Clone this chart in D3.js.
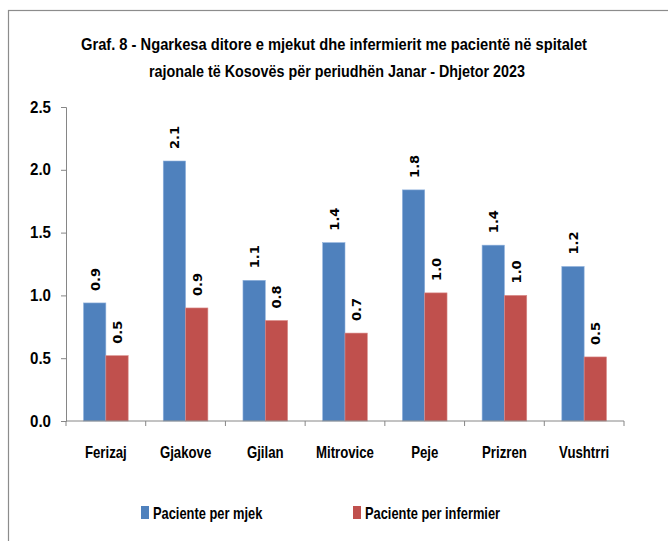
<!DOCTYPE html>
<html>
<head>
<meta charset="utf-8">
<script src="https://cdn.jsdelivr.net/npm/d3@7"></script>
<style>
  body { margin: 0; background: #fff; }
  svg text { font-family: "Liberation Sans Narrow", "Liberation Sans", sans-serif; font-weight: bold; fill: #000; }
</style>
</head>
<body>
<div id="chart"></div>
<script>
var categories = ['Ferizaj', 'Gjakove', 'Gjilan', 'Mitrovice', 'Peje', 'Prizren', 'Vushtrri'];
var seriesNames = ['Paciente per mjek', 'Paciente per infermier'];
var mjek = [0.94, 2.07, 1.12, 1.42, 1.84, 1.40, 1.23];
var infermier = [0.52, 0.90, 0.80, 0.70, 1.02, 1.00, 0.51];
var yTicks = [0, 0.5, 1.0, 1.5, 2.0, 2.5];
var colors = ['#4F81BD', '#C0504D'];

var width = 668, height = 541;
var margin = {left: 66, right: 44, top: 107, bottom: 120};

var svg = d3.select('#chart').append('svg')
    .attr('width', width)
    .attr('height', height);

// outer chart frame
svg.append('rect')
    .attr('x', 8.5).attr('y', 10.5)
    .attr('width', 700).attr('height', 600)
    .attr('fill', 'none')
    .attr('stroke', '#8c8c8c')
    .attr('stroke-width', 1.2);

svg.append('text')
    .attr('x', 334).attr('y', 50)
    .attr('text-anchor', 'middle')
    .attr('textLength', 506)
    .attr('lengthAdjust', 'spacingAndGlyphs')
    .style('font-size', '17px')
    .text('Graf. 8 - Ngarkesa  ditore e mjekut dhe  infermierit me pacientë në spitalet');
svg.append('text')
    .attr('x', 337).attr('y', 77)
    .attr('text-anchor', 'middle')
    .attr('textLength', 376)
    .attr('lengthAdjust', 'spacingAndGlyphs')
    .style('font-size', '17px')
    .text('rajonale  të Kosovës për periudhën Janar  - Dhjetor 2023');

var x0 = d3.scaleBand()
    .domain(categories)
    .range([margin.left, width - margin.right])
    .padding(0);

var x1 = d3.scaleBand()
    .domain(seriesNames)
    .range([x0.bandwidth() * 0.22, x0.bandwidth() * 0.78]);

var y = d3.scaleLinear()
    .domain([0, 2.5])
    .range([height - margin.bottom, margin.top]);

var data = categories.map(function (c, i) {
  return {cat: c, vals: [mjek[i], infermier[i]]};
});

var groups = svg.selectAll('.grp')
    .data(data).enter()
    .append('g')
    .attr('class', 'grp')
    .attr('transform', function (d) { return 'translate(' + x0(d.cat) + ',0)'; });

groups.selectAll('rect')
    .data(function (d) { return d.vals.map(function (v, j) { return {s: seriesNames[j], v: v, j: j}; }); })
    .enter()
    .append('rect')
    .attr('x', function (d) { return x1(d.s); })
    .attr('y', function (d) { return y(d.v); })
    .attr('width', x1.bandwidth())
    .attr('height', function (d) { return y(0) - y(d.v); })
    .attr('fill', function (d) { return colors[d.j]; })
    .attr('stroke', function (d) { return d.j === 0 ? '#8fb1dc' : '#d98a88'; })
    .attr('stroke-width', 0.6);

groups.selectAll('.lbl')
    .data(function (d) { return d.vals.map(function (v, j) { return {s: seriesNames[j], v: v, j: j}; }); })
    .enter()
    .append('text')
    .attr('class', 'lbl')
    .attr('transform', function (d) {
      return 'translate(' + (x1(d.s) + x1.bandwidth() / 2 + 5) + ',' + (y(d.v) - 12) + ') rotate(-90)';
    })
    .style('font-family', '"DejaVu Sans", sans-serif')
    .style('font-size', '13px')
    .text(function (d) { return d3.format('.1f')(d.v); });

// y axis
var yAxis = svg.append('g')
    .attr('transform', 'translate(' + margin.left + ',0)')
    .call(d3.axisLeft(y).tickValues(yTicks).tickFormat(d3.format('.1f')).tickSize(5).tickPadding(10));
yAxis.selectAll('line, path').attr('stroke', '#868686');
yAxis.selectAll('text').style('font-size', '16px')
    .attr('textLength', 21).attr('lengthAdjust', 'spacingAndGlyphs');

// x axis
var xAxis = svg.append('g')
    .attr('transform', 'translate(0,' + y(0) + ')');
xAxis.append('line')
    .attr('x1', margin.left).attr('x2', width - margin.right)
    .attr('stroke', '#868686');
xAxis.selectAll('.tk')
    .data(categories.concat(['end'])).enter()
    .append('line')
    .attr('x1', function (d, i) { return margin.left + i * x0.step(); })
    .attr('x2', function (d, i) { return margin.left + i * x0.step(); })
    .attr('y1', 0).attr('y2', 5)
    .attr('stroke', '#868686');
xAxis.selectAll('.cat')
    .data(categories).enter()
    .append('text')
    .attr('x', function (d) { return x0(d) + x0.bandwidth() / 2; })
    .attr('y', 37)
    .attr('text-anchor', 'middle')
    .style('font-size', '16.5px')
    .style('transform-box', 'fill-box')
    .style('transform-origin', 'center')
    .style('transform', 'scaleX(0.8)')
    .text(function (d) { return d; });

// legend
var legendX = [141, 353];
var legend = svg.selectAll('.leg')
    .data(seriesNames).enter()
    .append('g')
    .attr('transform', function (d, i) { return 'translate(' + legendX[i] + ',506)'; });
legend.append('rect')
    .attr('width', 8).attr('height', 13)
    .attr('fill', function (d, i) { return colors[i]; });
legend.append('text')
    .attr('x', 12).attr('y', 13)
    .style('font-size', '16.5px')
    .style('transform-box', 'fill-box')
    .style('transform-origin', 'left center')
    .style('transform', 'scaleX(0.78)')
    .text(function (d) { return d; });
</script>
</body>
</html>
